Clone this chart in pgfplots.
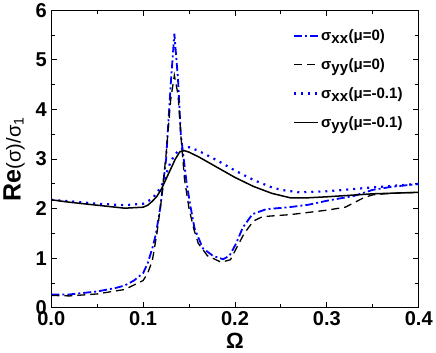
\documentclass[border=0pt]{standalone}
\usepackage{fontspec}
\setmainfont{Liberation Sans}
\usepackage{pgfplots}
\pgfplotsset{compat=1.18}

\begin{document}
\begin{tikzpicture}
\begin{axis}[
  scale only axis, width=367pt, height=297pt,
  xmin=0, xmax=0.4, ymin=0, ymax=6,
  xtick={0,0.1,0.2,0.3,0.4}, ytick={0,1,2,3,4,5,6},
  minor xtick={0.05,0.15,0.25,0.35},
  minor ytick={0.5,1.5,2.5,3.5,4.5,5.5},
  xticklabel style={/pgf/number format/fixed,/pgf/number format/fixed zerofill,/pgf/number format/precision=1},
  /pgf/number format/assume math mode=true,
  tick label style={font=\fontsize{20}{20}\selectfont\bfseries},
  yticklabel style={xshift=-1pt},
  tick align=inside, major tick length=6pt, minor tick length=4pt,
  tick style={black, line width=1pt},
  axis line style={line width=1.3pt},
  xlabel={\fontsize{22}{22}\selectfont\bfseries Ω},
  ylabel={{\fontsize{25}{25}\selectfont\bfseries Re}{\fontsize{20}{20}\selectfont(σ)/σ$_{\mathrm{1}}$}},
  xlabel style={yshift=-1pt},
  ylabel style={yshift=4pt},
  legend style={draw=none, fill=none, at={(0.97,0.95)}, anchor=north east,
    font=\fontsize{15}{17}\selectfont\bfseries, row sep=12.5pt},
  legend cell align=left,
  legend image post style={xscale=1.4},
  every axis legend/.append style={/tikz/every even column/.append style={column sep=2pt}},
]
\addplot[blue, line width=1.8pt, dash pattern=on 8pt off 3pt on 2pt off 3pt] coordinates {
(0,0.27) (0.02,0.27) (0.05,0.33) (0.07,0.4) (0.08,0.45) (0.09,0.55) (0.1,0.7) (0.105,0.9)
(0.11,1.2) (0.114,1.5) (0.1185,2.0) (0.125,3.0) (0.13,4.5) (0.134,5.53) (0.138,4.6)
(0.141,3.5) (0.147,2.57) (0.151,2.1) (0.156,1.6) (0.165,1.2) (0.176,1.05) (0.187,0.98)
(0.194,1.05) (0.201,1.29) (0.2085,1.62) (0.219,1.89) (0.234,1.99) (0.259,2.03)
(0.28,2.08) (0.3,2.16) (0.33,2.26) (0.35,2.38) (0.37,2.44) (0.4,2.5)};
\addlegendentry{σ$_{\textbf{xx}}$(μ=0)}
\addplot[black, line width=1.3pt, dash pattern=on 8pt off 5pt] coordinates {
(0,0.25) (0.02,0.24) (0.05,0.28) (0.08,0.37) (0.1,0.55) (0.105,0.7) (0.11,0.95)
(0.115,1.5) (0.12,2.2) (0.125,3.1) (0.13,4.2) (0.134,4.69) (0.138,4.3) (0.141,3.5)
(0.145,2.6) (0.15,2.0) (0.155,1.6) (0.16,1.3) (0.17,1.05) (0.185,0.92) (0.195,0.97)
(0.2,1.15) (0.21,1.5) (0.22,1.75) (0.23,1.84) (0.26,1.88) (0.3,1.97) (0.32,2.03)
(0.34,2.22) (0.35,2.28) (0.37,2.31) (0.4,2.33)};
\addlegendentry{σ$_{\textbf{yy}}$(μ=0)}
\addplot[blue, line width=2.2pt, dash pattern=on 2pt off 5pt] coordinates {
(0,2.18) (0.02,2.15) (0.05,2.1) (0.08,2.07) (0.1,2.1) (0.11,2.2) (0.12,2.45)
(0.125,2.7) (0.13,2.95) (0.135,3.1) (0.14,3.2) (0.15,3.24) (0.16,3.17) (0.18,2.98)
(0.2,2.77) (0.22,2.58) (0.24,2.43) (0.25,2.38) (0.27,2.33) (0.3,2.35) (0.35,2.43) (0.4,2.5)};
\addlegendentry{σ$_{\textbf{xx}}$(μ=-0.1)}
\addplot[black, line width=1.5pt] coordinates {
(0,2.18) (0.02,2.13) (0.05,2.07) (0.08,2.01) (0.1,2.03) (0.105,2.07) (0.11,2.15)
(0.115,2.25) (0.12,2.4) (0.125,2.6) (0.13,2.8) (0.135,3.0) (0.14,3.15) (0.145,3.17)
(0.15,3.14) (0.16,3.05) (0.18,2.84) (0.2,2.63) (0.22,2.45) (0.24,2.31) (0.26,2.22)
(0.28,2.22) (0.3,2.24) (0.35,2.3) (0.4,2.33)};
\addlegendentry{σ$_{\textbf{yy}}$(μ=-0.1)}
\end{axis}
\end{tikzpicture}
\end{document}
